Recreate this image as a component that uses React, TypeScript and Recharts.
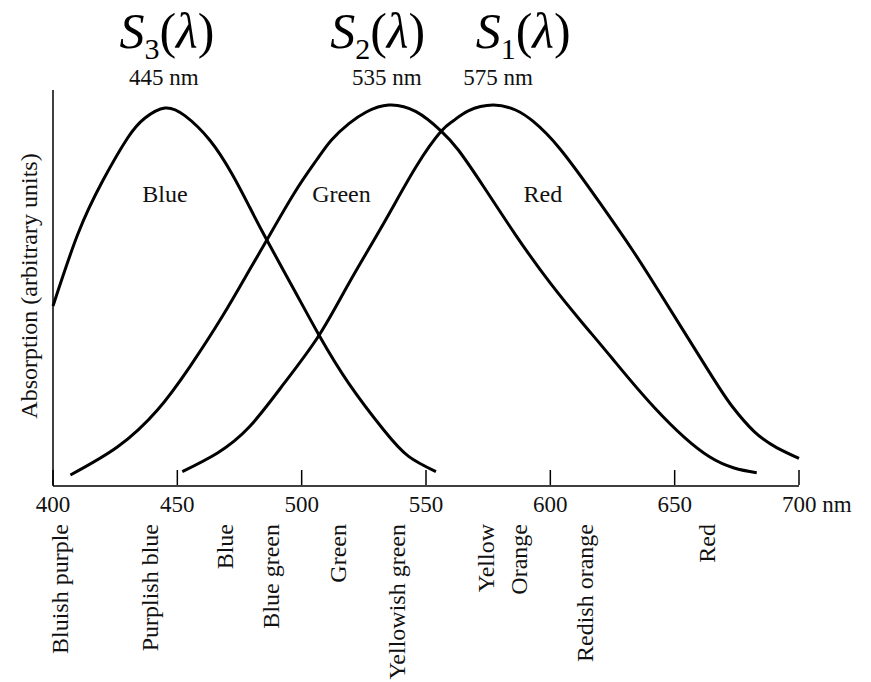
import React from "react";
import { LineChart, Line, XAxis, YAxis, ReferenceDot } from "recharts";

// cone absorption curves, wavelength (nm) vs absorption (arbitrary units)
const s3Nm = [400, 410, 420, 430, 437, 445, 453, 463, 472, 479, 486, 497, 507, 519, 533, 543, 554];
const s3Abs = [45, 63, 76.3, 87, 92, 94.5, 92.6, 86.5, 78, 69.8, 61.5, 49, 37.7, 25.6, 14, 7.4, 3.6];

const s2Nm = [407, 426, 442, 455, 468, 479, 486, 497, 506, 512, 519, 526, 535, 546, 556, 563, 573, 586, 600, 613, 625, 642, 664, 683];
const s2Abs = [2.75, 9.8, 19, 29.8, 42.3, 54, 61.5, 73.2, 81.5, 86.5, 90.6, 93.5, 95.25, 93.6, 88.8, 84, 75, 62.8, 50.7, 40.7, 31.8, 19.5, 7.3, 3.3];

const s1Nm = [452, 466, 479, 493, 507, 519, 533, 546, 556, 561, 567, 577, 586, 593, 604, 620, 633, 644, 664, 673, 682, 691, 700];
const s1Abs = [3.6, 8.2, 14.8, 25.7, 37.7, 50.7, 65.7, 79.8, 88.6, 91.3, 93.8, 95.25, 94, 91.2, 84.2, 70.7, 59, 48.3, 28.4, 20, 13.6, 9.6, 6.9];

const xTicks = [400, 450, 500, 550, 600, 650, 700];

const colorNames = ["Bluish purple", "Purplish blue", "Blue", "Blue green", "Green", "Yellowish green", "Yellow", "Orange", "Redish orange", "Red"];
const colorNm = [403, 439, 469, 487.5, 514.5, 538.5, 574, 587.5, 614, 663];

const peakNm = [445, 535, 575];
const peakText = ["445 nm", "535 nm", "575 nm"];
const coneIndex = ["3", "2", "1"];

const regionNames = ["Blue", "Green", "Red"];
const regionNm = [445, 516, 597];
const regionLevel = 71;

const toRows = (xs: number[], ys: number[]) => xs.map((nm, i) => ({ nm, abs: ys[i] }));

const FONT = "'Liberation Serif', 'Times New Roman', serif";
const INK = "#111";

// tick marks point up into the plot
const WaveTick = ({ x, y, payload }: any) => (
  <g>
    <line x1={x} x2={x} y1={y - 1} y2={y - 16} stroke="#000" strokeWidth={1.5} />
    {payload.value === 700 ? (
      <text x={x - 17} y={y + 26} textAnchor="start" fontFamily={FONT} fontSize={23} fill={INK}>700 nm</text>
    ) : (
      <text x={x} y={y + 26} textAnchor="middle" fontFamily={FONT} fontSize={23} fill={INK}>{payload.value}</text>
    )}
  </g>
);

const offsetsNm = [-1, -2, 10];
const offsetsS = [2, -11, 35];

export default function App() {
  return (
    <div style={{ position: "absolute", left: 0, top: 0, background: "#fff" }}>
      <LineChart width={871} height={682} margin={{ top: 90, right: 72, bottom: 195, left: 52 }}>
        <XAxis xAxisId="nm" dataKey="nm" type="number" domain={[400, 700]} ticks={xTicks} interval={0}
          height={1} tickSize={0} tickMargin={0} tickLine={false} tick={<WaveTick />}
          axisLine={{ stroke: "#000", strokeWidth: 1.5 }} />
        <YAxis domain={[0, 99]} width={1} tick={false} tickLine={false}
          axisLine={{ stroke: "#000", strokeWidth: 1.5 }}
          label={(p: any) => {
            const vb = p.viewBox;
            const cx = vb.x - 15;
            const cy = vb.y + vb.height / 2 - 2;
            return (
              <text x={cx} y={cy} transform={`rotate(-90 ${cx} ${cy})`} textAnchor="middle"
                fontFamily={FONT} fontSize={24} fill={INK}>Absorption (arbitrary units)</text>
            );
          }} />
        <Line xAxisId="nm" data={toRows(s3Nm, s3Abs)} dataKey="abs" type="natural" stroke="#000" strokeWidth={3}
          dot={false} isAnimationActive={false} />
        <Line xAxisId="nm" data={toRows(s2Nm, s2Abs)} dataKey="abs" type="natural" stroke="#000" strokeWidth={3}
          dot={false} isAnimationActive={false} />
        <Line xAxisId="nm" data={toRows(s1Nm, s1Abs)} dataKey="abs" type="natural" stroke="#000" strokeWidth={3}
          dot={false} isAnimationActive={false} />
        {regionNames.map((name, i) => (
          <ReferenceDot key={name} xAxisId="nm" x={regionNm[i]} y={regionLevel} r={0} stroke="none"
            label={(p: any) => (
              <text x={p.viewBox.x + p.viewBox.width / 2} y={p.viewBox.y + p.viewBox.height / 2}
                textAnchor="middle" fontFamily={FONT} fontSize={24} fill={INK}>{name}</text>
            )} />
        ))}
        {colorNames.map((name, i) => (
          <ReferenceDot key={name} xAxisId="nm" x={colorNm[i]} y={0} r={0} stroke="none" ifOverflow="visible"
            label={(p: any) => {
              const tx = p.viewBox.x + p.viewBox.width / 2 + 8;
              const ty = p.viewBox.y + p.viewBox.height / 2 + 38;
              return (
                <text x={tx} y={ty} transform={`rotate(-90 ${tx} ${ty})`} textAnchor="end"
                  fontFamily={FONT} fontSize={24} fill={INK}>{name}</text>
              );
            }} />
        ))}
        {peakNm.map((nm, i) => (
          <ReferenceDot key={nm} xAxisId="nm" x={nm} y={99} r={0} stroke="none" ifOverflow="visible"
            label={(p: any) => {
              const cx = p.viewBox.x + p.viewBox.width / 2;
              const top = p.viewBox.y + p.viewBox.height / 2;
              return (
                <g>
                  <text x={cx + offsetsNm[i]} y={top - 5} textAnchor="middle" fontFamily={FONT} fontSize={23} fill={INK}>
                    {peakText[i]}
                  </text>
                  <text x={cx + offsetsS[i]} y={top - 42} textAnchor="middle" fontFamily={FONT} fontSize={50} fill="#000">
                    <tspan fontStyle="italic">S</tspan>
                    <tspan fontSize={30} dy={11}>{coneIndex[i]}</tspan>
                    <tspan dy={-11} fontWeight={300}>(</tspan>
                    <tspan fontStyle="italic">λ</tspan>
                    <tspan>)</tspan>
                  </text>
                </g>
              );
            }} />
        ))}
      </LineChart>
    </div>
  );
}
